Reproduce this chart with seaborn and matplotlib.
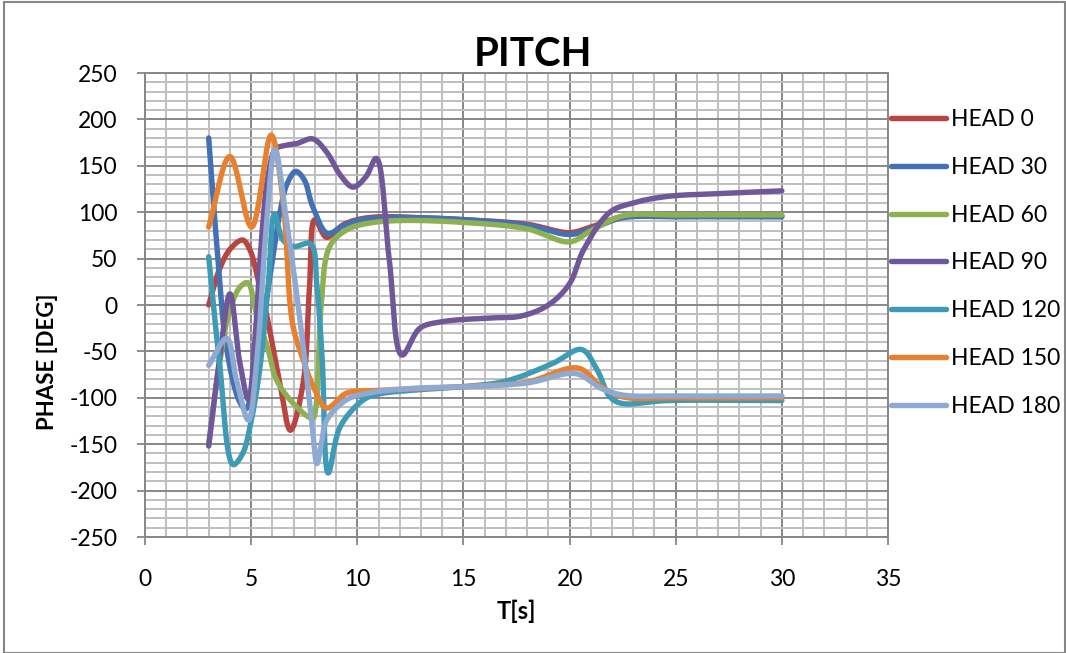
import numpy as np
import pandas as pd
import matplotlib
matplotlib.use("Agg")
import matplotlib.pyplot as plt
from matplotlib.lines import Line2D
from matplotlib.patches import Rectangle
from matplotlib.ticker import MultipleLocator
import seaborn as sns

# ---- data: pitch phase [deg] against period T [s] for each heading ----
t_head0 = [3, 3.5, 4, 4.6, 4.95, 5.4, 5.75, 6.35, 6.85, 7.45, 7.75, 8.0, 8.55, 9.3, 10, 11, 13, 15, 18, 20, 21, 22.5, 25, 30]
v_head0 = [0, 38, 60, 70, 59, 20, -13, -84, -135, -84, 20, 92, 73, 86, 92, 95, 94, 92, 87, 78, 84, 95, 96, 96]

t_head30 = [3, 3.4, 3.85, 4.45, 4.75, 5.4, 5.95, 6.35, 6.7, 7.1, 7.5, 7.9, 8.6, 9.3, 10, 11, 13, 15, 18, 20, 21, 22.5, 25, 30]
v_head30 = [180, 60, -48, -104, -112, -38, 40, 99, 131, 144, 135, 106, 77, 85, 91, 94, 94, 92, 86, 76, 82, 94, 95, 95]

t_head60 = [3, 3.5, 4, 4.5, 4.85, 5.2, 5.8, 6.2, 7.15, 7.9, 8.05, 8.3, 8.7, 9.5, 10.5, 12, 15, 18, 20, 21, 22.5, 25, 30]
v_head60 = [-150, -65, -5, 20, 24, -5, -48, -81, -110, -122, -110, 0, 63, 81, 88, 91, 89, 82, 68, 80, 96, 97, 97]

t_head90 = [3, 3.5, 4.0, 4.45, 4.87, 5.2, 5.45, 5.8, 6.15, 6.6, 7.15, 7.9, 8.55, 9.2, 9.8, 10.4, 10.9, 11.5, 12.1, 12.95, 14, 16.25, 17.7, 19, 20, 20.65, 21.9, 23, 24.6, 27, 30]
v_head90 = [-152, -60, 12, -60, -102, -30, 59, 140, 168, 172, 174, 179, 165, 140, 127, 138, 158, 50, -54, -25, -18, -14, -12, 0, 23, 59, 100, 110, 117, 120, 123]

t_head120 = [3, 3.5, 4.15, 4.6, 4.95, 5.4, 5.8, 6.1, 6.5, 7.0, 7.8, 8.1, 8.35, 8.63, 9.2, 10.3, 11, 12.5, 15, 17, 19.2, 20.57, 21.3, 21.9, 22.45, 24.6, 30]
v_head120 = [52, -60, -172, -160, -131, -70, 20, 98, 70, 63, 66, 20, -60, -181, -131, -102, -96, -92, -88, -82, -63, -48, -70, -99, -106, -103, -103]

t_head150 = [3, 4, 5.02, 5.94, 6.5, 6.95, 7.45, 7.93, 8.55, 9.5, 11, 13, 15, 18, 20.4, 21.5, 22.5, 25, 30]
v_head150 = [84, 160, 84, 183, 113, -20, -59, -88, -111, -95, -92, -90, -88, -83, -68, -88, -99, -100, -100]

t_head180 = [3, 3.85, 4.3, 4.87, 5.3, 5.7, 6.12, 6.7, 7.3, 7.85, 8.1, 8.3, 8.56, 9.5, 10.5, 12.5, 15, 18, 20.3, 21.5, 22.5, 25, 30]
v_head180 = [-65, -36, -80, -124, -50, 80, 167, 85, -16, -124, -171, -150, -124, -102, -95, -90, -88, -84, -74, -90, -97, -98, -98]

series_names = ["HEAD 0", "HEAD 30", "HEAD 60", "HEAD 90", "HEAD 120", "HEAD 150", "HEAD 180"]
series_t = [t_head0, t_head30, t_head60, t_head90, t_head120, t_head150, t_head180]
series_v = [v_head0, v_head30, v_head60, v_head90, v_head120, v_head150, v_head180]
series_colors = ["#B84541", "#4371B3", "#8DB152", "#70579A", "#3E9BB6", "#E8812F", "#8EA9D2"]

x_ticks = [0, 5, 10, 15, 20, 25, 30, 35]
y_ticks = [-250, -200, -150, -100, -50, 0, 50, 100, 150, 200, 250]

FONT = ["Lato", "DejaVu Sans"]

sns.set_theme(style="white")
plt.rcParams["font.family"] = FONT
plt.rcParams["text.color"] = "black"
plt.rcParams["axes.labelcolor"] = "black"

W, H = 1066, 653
fig = plt.figure(figsize=(W / 100, H / 100), dpi=100)
ax = fig.add_axes([145 / W, 1 - 537 / H, (888 - 145) / W, (537 - 73) / H])
ax.set_xlim(0, 35)
ax.set_ylim(-250, 250)


def smooth_curve(ax, xs, ys, n=40):
    """Centripetal Catmull-Rom through the points, computed in display space."""
    pts = ax.transData.transform(np.column_stack([xs, ys]))
    pts = np.vstack([2 * pts[0] - pts[1], pts, 2 * pts[-1] - pts[-2]])
    out = []
    for i in range(1, len(pts) - 2):
        p0, p1, p2, p3 = pts[i - 1], pts[i], pts[i + 1], pts[i + 2]
        t0 = 0.0
        t1 = t0 + max(np.linalg.norm(p1 - p0), 1e-6) ** 0.5
        t2 = t1 + max(np.linalg.norm(p2 - p1), 1e-6) ** 0.5
        t3 = t2 + max(np.linalg.norm(p3 - p2), 1e-6) ** 0.5
        t = np.linspace(t1, t2, n)[:, None]
        a1 = (t1 - t) / (t1 - t0) * p0 + (t - t0) / (t1 - t0) * p1
        a2 = (t2 - t) / (t2 - t1) * p1 + (t - t1) / (t2 - t1) * p2
        a3 = (t3 - t) / (t3 - t2) * p2 + (t - t2) / (t3 - t2) * p3
        b1 = (t2 - t) / (t2 - t0) * a1 + (t - t0) / (t2 - t0) * a2
        b2 = (t3 - t) / (t3 - t1) * a2 + (t - t1) / (t3 - t1) * a3
        c = (t2 - t) / (t2 - t1) * b1 + (t - t1) / (t2 - t1) * b2
        out.append(c if i == 1 else c[1:])
    curve = np.vstack(out)
    return ax.transData.inverted().transform(curve)


# grid: minor first, major on top of it
ax.xaxis.set_major_locator(MultipleLocator(5))
ax.xaxis.set_minor_locator(MultipleLocator(1))
ax.yaxis.set_major_locator(MultipleLocator(50))
ax.yaxis.set_minor_locator(MultipleLocator(10))
ax.grid(which="minor", color="#BFBFBF", linewidth=1.4, zorder=0)
ax.grid(which="major", color="#878787", linewidth=1.4, zorder=0.5)
ax.set_axisbelow(True)

LW = 3.9
handles = []
for name, ts, vs, col in zip(series_names, series_t, series_v, series_colors):
    curve = smooth_curve(ax, ts, vs)
    df = pd.DataFrame({"T": curve[:, 0], "phase": curve[:, 1]})
    sns.lineplot(data=df, x="T", y="phase", sort=False, estimator=None,
                 color=col, linewidth=LW, ax=ax, solid_capstyle="round", zorder=3)
    handles.append(Line2D([], [], color=col, linewidth=LW, solid_capstyle="round", label=name))

ax.set_xticks(x_ticks)
ax.set_yticks(y_ticks)
ax.set_xticklabels([str(v) for v in x_ticks])
ax.set_yticklabels([str(v) for v in y_ticks])
ax.tick_params(axis="both", which="major", labelsize=16.5, color="#878787",
               length=6, width=1.3, direction="out", labelcolor="black")
ax.tick_params(axis="x", which="major", pad=17, bottom=True)
ax.tick_params(axis="y", which="major", pad=14, left=True)
ax.tick_params(which="minor", length=0)
for side in ["left", "bottom", "right", "top"]:
    ax.spines[side].set_color("#878787")
    ax.spines[side].set_linewidth(1.4)

ax.set_xlabel("T[s]", fontsize=17, fontweight="bold")
ax.set_ylabel("PHASE [DEG]", fontsize=16, fontweight="bold")
ax.xaxis.set_label_coords(0.5, -0.136)
ax.yaxis.set_label_coords(-0.117, 0.378)

fig.text(533 / W, 1 - 54 / H, "PITCH", fontsize=29, fontweight="bold",
         ha="center", va="center")

fig.legend(handles=handles, loc="upper left",
           bbox_to_anchor=(891 / W, 1 - 109 / H), frameon=False,
           fontsize=16.5, labelspacing=1.17, handlelength=2.4, handletextpad=0.2,
           borderpad=0, borderaxespad=0)

fig.patches.append(Rectangle((4 / W, 0), 1 - 5 / W, 1 - 1.5 / H, transform=fig.transFigure,
                             fill=False, edgecolor="#868686", linewidth=1.5))

fig.savefig("out.png", dpi=100)
